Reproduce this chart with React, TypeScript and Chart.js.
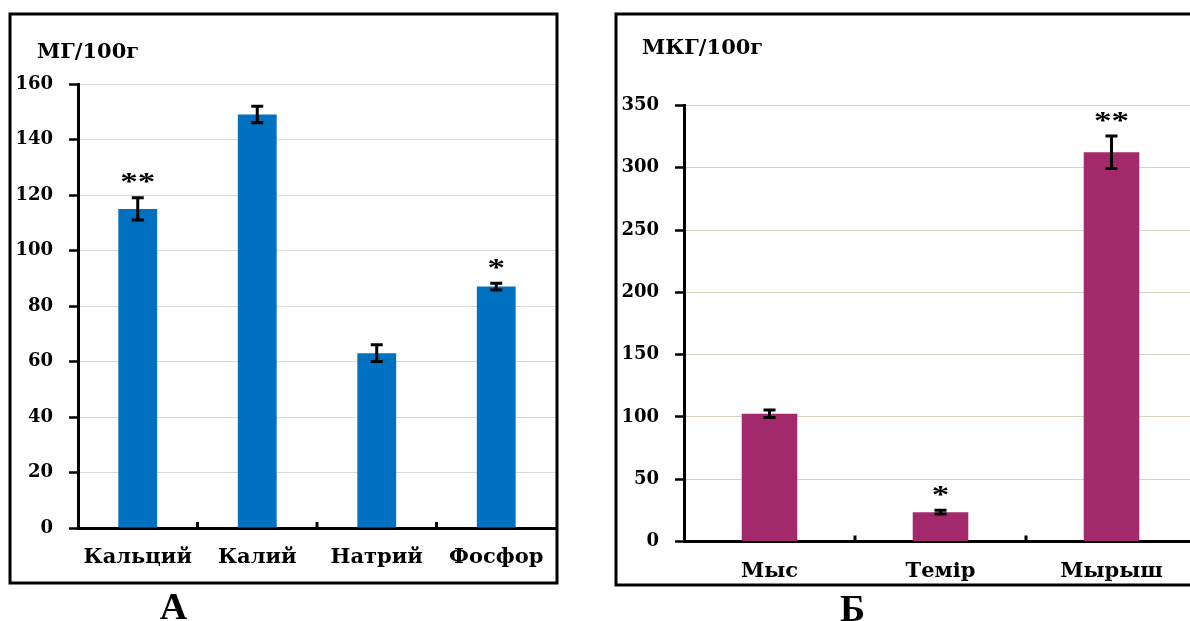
import React, { useEffect, useRef } from "react";
import Chart from "chart.js/auto";

// ---- Data (panel А) ----
const categoriesA = ["Кальций", "Калий", "Натрий", "Фосфор"];
const valuesA = [115, 149, 63, 87];
const errorsA = [4, 3, 3, 1.2];
const starsA = ["**", "", "", "*"];
const yMinA = 0;
const yMaxA = 160;
const yStepA = 20;
const unitA = "МГ/100г";
const panelLabelA = "А";

// ---- Data (panel Б) ----
const categoriesB = ["Мыс", "Темір", "Мырыш"];
const valuesB = [102.5, 23.5, 312.5];
const errorsB = [3, 1.5, 13];
const starsB = ["", "*", "**"];
const yMinB = 0;
const yMaxB = 350;
const yStepB = 50;
const unitB = "МКГ/100г";
const panelLabelB = "Б";

const FONT = "'DejaVu Serif', serif";

type PanelCfg = {
  labels: string[];
  values: number[];
  errors: number[];
  stars: string[];
  min: number;
  max: number;
  step: number;
  unit: string;
  panelLabel: string;
  color: string;
  gridColor: string;
  width: number;
  yWidth: number;
  padTop: number;
  padRight: number;
  xHeight: number;
  box: [number, number, number, number];
  unitPos: [number, number];
  labelPos: [number, number];
};

function makeChart(canvas: HTMLCanvasElement, cfg: PanelCfg) {
  const overlay = {
    id: "overlay",
    afterDraw(chart: any) {
      const ctx = chart.ctx as CanvasRenderingContext2D;
      const xs = chart.scales.x;
      const ys = chart.scales.y;
      const meta = chart.getDatasetMeta(0);
      ctx.save();
      // error bars
      ctx.strokeStyle = "#000";
      ctx.lineWidth = 3;
      cfg.values.forEach((v, i) => {
        const x = meta.data[i].x;
        const yt = ys.getPixelForValue(v + cfg.errors[i]);
        const yb = ys.getPixelForValue(v - cfg.errors[i]);
        ctx.beginPath();
        ctx.moveTo(x, yt);
        ctx.lineTo(x, yb);
        ctx.moveTo(x - 6, yt);
        ctx.lineTo(x + 6, yt);
        ctx.moveTo(x - 6, yb);
        ctx.lineTo(x + 6, yb);
        ctx.stroke();
        // stars
        const s = cfg.stars[i];
        if (s) {
          ctx.save();
          ctx.translate(x, yt - 7.5);
          ctx.scale(1.35, 1);
          ctx.fillStyle = "#000";
          ctx.font = "bold 26px 'Liberation Serif', serif";
          ctx.textAlign = "center";
          ctx.textBaseline = "alphabetic";
          ctx.fillText(s, 0, 0);
          ctx.restore();
        }
      });
      // category boundary ticks on x axis
      ctx.lineWidth = 3;
      const n = cfg.labels.length;
      for (let i = 0; i < n - 1; i++) {
        const bx = (xs.getPixelForTick(i) + xs.getPixelForTick(i + 1)) / 2;
        ctx.beginPath();
        ctx.moveTo(bx, xs.top);
        ctx.lineTo(bx, xs.top - 6);
        ctx.stroke();
      }
      // frame
      const [l, t, r, b] = cfg.box;
      ctx.lineWidth = 3;
      ctx.strokeRect(l, t, r - l, b - t);
      // unit title
      ctx.fillStyle = "#000";
      ctx.font = `bold 21px ${FONT}`;
      ctx.textAlign = "left";
      ctx.textBaseline = "alphabetic";
      ctx.fillText(cfg.unit, cfg.unitPos[0], cfg.unitPos[1]);
      // panel letter
      ctx.font = "bold 38px 'Liberation Serif', serif";
      ctx.textAlign = "center";
      ctx.fillText(cfg.panelLabel, cfg.labelPos[0], cfg.labelPos[1]);
      ctx.restore();
    },
  };

  return new Chart(canvas, {
    type: "bar",
    data: {
      labels: cfg.labels,
      datasets: [
        {
          data: cfg.values,
          backgroundColor: cfg.color,
          borderWidth: 0,
          categoryPercentage: 1,
          barPercentage: 0.325,
        },
      ],
    },
    options: {
      animation: false,
      responsive: false,
      devicePixelRatio: 1,
      layout: { padding: { left: 0, top: cfg.padTop, right: cfg.padRight, bottom: 0 } },
      plugins: { legend: { display: false }, tooltip: { enabled: false }, title: { display: false } },
      scales: {
        x: {
          z: 1,
          grid: { display: false, drawTicks: false },
          border: { display: true, color: "#000", width: 3 },
          ticks: {
            color: "#000",
            font: { family: FONT, size: 21, weight: "bold" },
            padding: 17,
            maxRotation: 0,
            autoSkip: false,
          },
          afterFit: (s: any) => {
            s.height = cfg.xHeight;
          },
        },
        y: {
          min: cfg.min,
          max: cfg.max,
          ticks: {
            stepSize: cfg.step,
            color: "#000",
            font: { family: FONT, size: 18, weight: "bold" },
            padding: 16,
          },
          grid: {
            color: cfg.gridColor,
            lineWidth: 1,
            tickColor: "#000",
            tickWidth: 2.5,
            tickLength: 9,
            drawTicks: true,
          },
          border: { display: true, color: "#000", width: 3 },
          afterFit: (s: any) => {
            s.width = cfg.yWidth;
          },
        },
      },
    },
    plugins: [overlay],
  } as any);
}

const cfgA: PanelCfg = {
  labels: categoriesA,
  values: valuesA,
  errors: errorsA,
  stars: starsA,
  min: yMinA,
  max: yMaxA,
  step: yStepA,
  unit: unitA,
  panelLabel: panelLabelA,
  color: "#0070C0",
  gridColor: "#d9d9d9",
  width: 600,
  yWidth: 78,
  padTop: 84,
  padRight: 44,
  xHeight: 93,
  box: [10, 14, 557, 583],
  unitPos: [37, 57.5],
  labelPos: [173.5, 619],
};

const cfgB: PanelCfg = {
  labels: categoriesB,
  values: valuesB,
  errors: errorsB,
  stars: starsB,
  min: yMinB,
  max: yMaxB,
  step: yStepB,
  unit: unitB,
  panelLabel: panelLabelB,
  color: "#A3296D",
  gridColor: "#d8d3bd",
  width: 600,
  yWidth: 84,
  padTop: 105.5,
  padRight: 3,
  xHeight: 79.5,
  box: [16, 14, 610, 585],
  unitPos: [42, 53.5],
  labelPos: [252.5, 621],
};

function Panel({ cfg, left }: { cfg: PanelCfg; left: number }) {
  const ref = useRef<HTMLCanvasElement | null>(null);
  useEffect(() => {
    if (!ref.current) return;
    const chart = makeChart(ref.current, cfg);
    return () => chart.destroy();
  }, [cfg]);
  return (
    <canvas
      ref={ref}
      width={cfg.width}
      height={621}
      style={{ position: "absolute", left, top: 0, width: cfg.width, height: 621 }}
    />
  );
}

export default function App() {
  return (
    <div
      style={{
        position: "absolute",
        left: 0,
        top: 0,
        width: 1190,
        height: 621,
        overflow: "hidden",
        background: "#fff",
      }}
    >
      <Panel cfg={cfgA} left={0} />
      <Panel cfg={cfgB} left={600} />
    </div>
  );
}
